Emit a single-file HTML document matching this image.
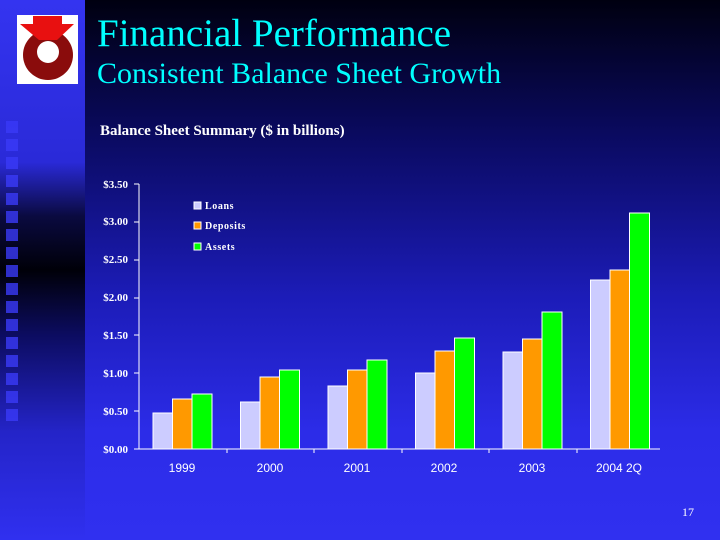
<!DOCTYPE html>
<html><head><style>
body{margin:0;width:720px;height:540px;overflow:hidden;background:#000}
</style></head><body>
<svg width="720" height="540" xmlns="http://www.w3.org/2000/svg" style="display:block">
<defs>
<linearGradient id="bg" x1="0" y1="0" x2="0" y2="1">
<stop offset="0" stop-color="#000010"/>
<stop offset="0.25" stop-color="#0a0a60"/>
<stop offset="0.55" stop-color="#1c1cb8"/>
<stop offset="0.8" stop-color="#2c2ce8"/>
<stop offset="1" stop-color="#3030f0"/>
</linearGradient>
<linearGradient id="lf" x1="0" y1="0" x2="0" y2="1">
<stop offset="0" stop-color="#3434f0"/>
<stop offset="0.3" stop-color="#2a2ad8"/>
<stop offset="0.4" stop-color="#0a0a40"/>
<stop offset="0.5" stop-color="#000008"/>
<stop offset="0.62" stop-color="#0c0c60"/>
<stop offset="0.8" stop-color="#2424c8"/>
<stop offset="1" stop-color="#3030f0"/>
</linearGradient>
</defs>
<rect width="720" height="540" fill="url(#bg)"/>
<rect width="85" height="540" fill="url(#lf)"/>
<g fill="#3a3af8" opacity="0.8">
<rect x="6" y="121" width="12" height="12"/><rect x="6" y="139" width="12" height="12"/>
<rect x="6" y="157" width="12" height="12"/><rect x="6" y="175" width="12" height="12"/>
<rect x="6" y="193" width="12" height="12"/><rect x="6" y="211" width="12" height="12"/>
<rect x="6" y="229" width="12" height="12"/><rect x="6" y="247" width="12" height="12"/>
<rect x="6" y="265" width="12" height="12"/><rect x="6" y="283" width="12" height="12"/>
<rect x="6" y="301" width="12" height="12"/><rect x="6" y="319" width="12" height="12"/>
<rect x="6" y="337" width="12" height="12"/><rect x="6" y="355" width="12" height="12"/>
<rect x="6" y="373" width="12" height="12"/><rect x="6" y="391" width="12" height="12"/>
<rect x="6" y="409" width="12" height="12"/>
</g>
<!-- logo -->
<rect x="17" y="15" width="61" height="69" fill="#fff"/>
<circle cx="48" cy="55" r="25" fill="#8a0c0c"/>
<polygon points="33,16 62,16 62,24 74,24 57,40 39,40 20,24 33,24" fill="#e81010"/>
<circle cx="48" cy="52" r="11" fill="#fff"/>
<text x="97" y="46" font-family="Liberation Serif,serif" font-size="39" fill="#00ffff">Financial Performance</text>
<text x="97" y="83" font-family="Liberation Serif,serif" font-size="30" fill="#00ffff">Consistent Balance Sheet Growth</text>
<text x="100" y="135" font-family="Liberation Serif,serif" font-size="15" font-weight="bold" fill="#fff">Balance Sheet Summary ($ in billions)</text>
<g font-family="Liberation Serif,serif" font-size="11" font-weight="bold" fill="#fff" text-anchor="end">
<text x="128" y="188">$3.50</text><text x="128" y="225">$3.00</text><text x="128" y="263">$2.50</text>
<text x="128" y="301">$2.00</text><text x="128" y="339">$1.50</text><text x="128" y="377">$1.00</text>
<text x="128" y="415">$0.50</text><text x="128" y="453">$0.00</text>
</g>
<g stroke="#fff" stroke-width="1">
<line x1="139" y1="184" x2="139" y2="449"/>
<line x1="134" y1="184" x2="139" y2="184"/><line x1="134" y1="222" x2="139" y2="222"/>
<line x1="134" y1="260" x2="139" y2="260"/><line x1="134" y1="298" x2="139" y2="298"/>
<line x1="134" y1="335" x2="139" y2="335"/><line x1="134" y1="373" x2="139" y2="373"/>
<line x1="134" y1="411" x2="139" y2="411"/>
<line x1="134" y1="449" x2="660" y2="449"/>
<line x1="227" y1="449" x2="227" y2="453"/><line x1="314" y1="449" x2="314" y2="453"/>
<line x1="402" y1="449" x2="402" y2="453"/><line x1="489" y1="449" x2="489" y2="453"/>
<line x1="577" y1="449" x2="577" y2="453"/>
</g>
<g stroke="#fff" stroke-width="1">
<rect x="153" y="413" width="19.5" height="36" fill="#ccccff"/>
<rect x="172.5" y="399" width="19.5" height="50" fill="#ff9900"/>
<rect x="192" y="394" width="20" height="55" fill="#00ff00"/>
<rect x="240.5" y="402" width="19.5" height="47" fill="#ccccff"/>
<rect x="260" y="377" width="19.5" height="72" fill="#ff9900"/>
<rect x="279.5" y="370" width="20" height="79" fill="#00ff00"/>
<rect x="328" y="386" width="19.5" height="63" fill="#ccccff"/>
<rect x="347.5" y="370" width="19.5" height="79" fill="#ff9900"/>
<rect x="367" y="360" width="20" height="89" fill="#00ff00"/>
<rect x="415.5" y="373" width="19.5" height="76" fill="#ccccff"/>
<rect x="435" y="351" width="19.5" height="98" fill="#ff9900"/>
<rect x="454.5" y="338" width="20" height="111" fill="#00ff00"/>
<rect x="503" y="352" width="19.5" height="97" fill="#ccccff"/>
<rect x="522.5" y="339" width="19.5" height="110" fill="#ff9900"/>
<rect x="542" y="312" width="20" height="137" fill="#00ff00"/>
<rect x="590.5" y="280" width="19.5" height="169" fill="#ccccff"/>
<rect x="610" y="270" width="19.5" height="179" fill="#ff9900"/>
<rect x="629.5" y="213" width="20" height="236" fill="#00ff00"/>
<rect x="194" y="202" width="7" height="7" fill="#ccccff"/>
<rect x="194" y="222" width="7" height="7" fill="#ff9900"/>
<rect x="194" y="243" width="7" height="7" fill="#00ff00"/>
</g>
<g font-family="Liberation Serif,serif" font-size="10" font-weight="bold" fill="#fff" letter-spacing="0.6">
<text x="205" y="209">Loans</text><text x="205" y="229">Deposits</text><text x="205" y="250">Assets</text>
</g>
<g font-family="Liberation Sans,sans-serif" font-size="12" fill="#fff" text-anchor="middle">
<text x="182" y="472">1999</text><text x="270" y="472">2000</text><text x="357" y="472">2001</text>
<text x="444" y="472">2002</text><text x="532" y="472">2003</text><text x="619" y="472">2004 2Q</text>
</g>
<text x="688" y="516" font-family="Liberation Serif,serif" font-size="12" fill="#fff" text-anchor="middle">17</text>
</svg>
</body></html>
